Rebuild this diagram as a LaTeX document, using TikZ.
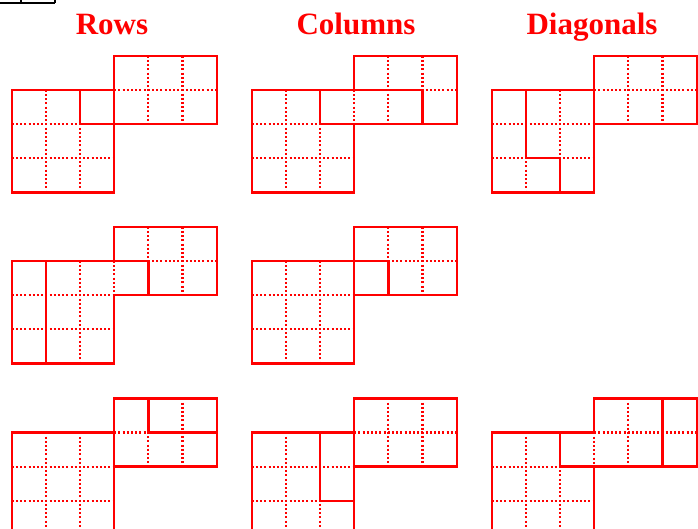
\documentclass[tikz,border=0pt]{standalone}
\usepackage{fontspec}
\setmainfont{Liberation Serif}
\definecolor{tred}{RGB}{255,0,0}
\tikzset{
  gridline/.style={tred, line width=2.2pt, dash pattern=on 2pt off 2.2pt},
  wall/.style={tred, line width=2.4pt, line cap=rect, line join=miter},
  title/.style={text=tred, font=\fontsize{31}{36}\selectfont\bfseries, anchor=base, inner sep=0pt},
  mark line/.style={black, line width=1.6pt}
}
\newcommand\gridpanel[3]{%
  \begin{scope}[shift={(#1pt,-#2pt)}, x=34.17pt, y=-34.17pt]
    \draw[gridline] (1,1)--(1,4) (2,1)--(2,4) (3,1)--(3,2) (4,0)--(4,2) (5,0)--(5,2)
                    (0,2)--(3,2) (0,3)--(3,3) (3,1)--(6,1);
    \draw[wall] (0,4)--(3,4)--(3,2)--(6,2)--(6,0)--(3,0)--(3,1)--(0,1)--cycle;
    \draw[wall] #3;
  \end{scope}}
\begin{document}
\begin{tikzpicture}[x=1pt, y=-1pt]
  \useasboundingbox (0,0) rectangle (698,528);
  \clip (0,0) rectangle (698,528);
  % partial box at top left
  \draw[mark line] (0,3) -- (55,3) (21,0) -- (21,3) (55,0) -- (55,3);
  % titles
  \node[title] (rows) at (112,34) {Rows};
  \node[title] (cols) at (356,34) {Columns};
  \node[title] (diags) at (592,34) {Diagonals};
  % row 1
  \gridpanel{11.7}{55.7}{(2,1)--(2,2)--(3,2) (3,2)--(3,1)}
  \gridpanel{251.7}{55.7}{(2,1)--(2,2)--(3,2) (3,1)--(5,1)--(5,2)}
  \gridpanel{491.7}{55.7}{(1,1)--(1,3)--(2,3)--(2,4) (3,2)--(3,1)}
  % row 2
  \gridpanel{11.7}{226.7}{(1,4)--(1,1) (3,1)--(4,1)--(4,2)}
  \gridpanel{251.7}{226.7}{(3,2)--(3,1)--(4,1)--(4,2)}
  % row 3
  \gridpanel{11.7}{398.3}{(4,0)--(4,1)--(6,1) (3,2)--(3,1)}
  \gridpanel{251.7}{398.3}{(2,1)--(2,3)--(3,3) (3,2)--(3,1)}
  \gridpanel{491.7}{398.3}{(2,1)--(2,2)--(3,2) (5,2)--(5,0)}
\end{tikzpicture}
\end{document}
